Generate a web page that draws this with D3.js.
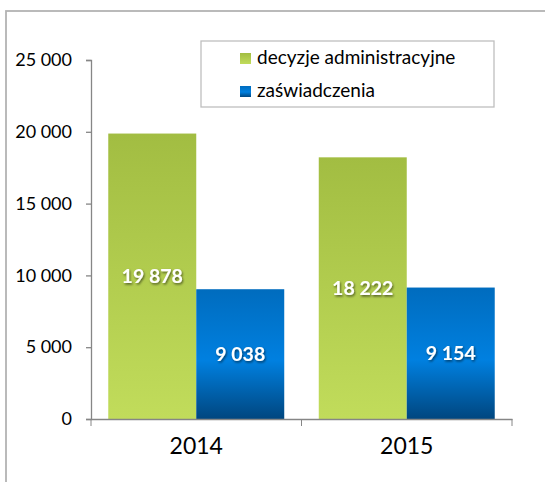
<!DOCTYPE html>
<html>
<head>
<meta charset="utf-8">
<style>
  body { margin: 0; background: #fff; }
  svg { display: block; font-family: Lato, "Open Sans", sans-serif; }
</style>
</head>
<body>
<script src="https://d3js.org/d3.v7.min.js"></script>
<script>

var width = 545,
    height = 482;

// data
var years = ["2014", "2015"];
var seriesNames = ["decyzje administracyjne", "zaświadczenia"];
var decyzje = [19878, 18222];
var zaswiadczenia = [9038, 9154];
var yTicks = [0, 5000, 10000, 15000, 20000, 25000];

var margin = {top: 60, right: 33, bottom: 63, left: 91};

var svg = d3.select("body").append("svg")
    .attr("width", width)
    .attr("height", height);

var defs = svg.append("defs");

var gGreen = defs.append("linearGradient")
    .attr("id", "gradGreen")
    .attr("x1", 0).attr("y1", 0).attr("x2", 0).attr("y2", 1);
gGreen.append("stop").attr("offset", "0%").attr("stop-color", "#a2bd42");
gGreen.append("stop").attr("offset", "100%").attr("stop-color", "#c1dc5b");

var gBlue = defs.append("linearGradient")
    .attr("id", "gradBlue")
    .attr("x1", 0).attr("y1", 0).attr("x2", 0).attr("y2", 1);
gBlue.append("stop").attr("offset", "0%").attr("stop-color", "#006cbe");
gBlue.append("stop").attr("offset", "55%").attr("stop-color", "#0080e0");
gBlue.append("stop").attr("offset", "100%").attr("stop-color", "#00467f");

var shadow = defs.append("filter").attr("id", "shadow")
    .attr("x", "-20%").attr("y", "-20%").attr("width", "140%").attr("height", "160%");
shadow.append("feDropShadow")
    .attr("dx", 1).attr("dy", 1.5).attr("stdDeviation", 1)
    .attr("flood-color", "#000").attr("flood-opacity", 0.55);

var fills = ["url(#gradGreen)", "url(#gradBlue)"];

// chart frame (clipped by the window on right and bottom)
svg.append("rect")
    .attr("x", 6).attr("y", 11)
    .attr("width", 560).attr("height", 500)
    .attr("fill", "none")
    .attr("stroke", "#b3b3b3")
    .attr("stroke-width", 1.8);

var x0 = d3.scaleBand()
    .domain(years)
    .range([margin.left, width - margin.right])
    .paddingInner(0.164)
    .paddingOuter(0.082);

var x1 = d3.scaleBand()
    .domain([0, 1])
    .range([0, x0.bandwidth()]);

var y = d3.scaleLinear()
    .domain([0, 25000])
    .range([height - margin.bottom, margin.top]);

var fmt = function(v) { return d3.format(",")(v).replace(/,/g, " "); };

// bars
var groups = svg.append("g").selectAll("g")
    .data(years)
    .enter().append("g")
    .attr("transform", function(d) { return "translate(" + x0(d) + ",0)"; });

groups.selectAll("rect")
    .data(function(d, i) { return [decyzje[i], zaswiadczenia[i]]; })
    .enter().append("rect")
    .attr("x", function(d, j) { return x1(j); })
    .attr("y", function(d) { return y(d); })
    .attr("width", x1.bandwidth())
    .attr("height", function(d) { return y(0) - y(d); })
    .attr("fill", function(d, j) { return fills[j]; });

groups.selectAll("text")
    .data(function(d, i) { return [decyzje[i], zaswiadczenia[i]]; })
    .enter().append("text")
    .attr("x", function(d, j) { return x1(j) + x1.bandwidth() / 2; })
    .attr("y", function(d) { return (y(d) + y(0)) / 2; })
    .attr("dy", "0.36em")
    .attr("text-anchor", "middle")
    .attr("fill", "#fff")
    .attr("font-weight", "bold")
    .attr("font-size", "19.5px")
    .attr("filter", "url(#shadow)")
    .text(function(d) { return fmt(d); });

// y axis
var yAxis = svg.append("g")
    .attr("transform", "translate(" + margin.left + ",0)")
    .call(d3.axisLeft(y).tickValues(yTicks).tickSize(5).tickPadding(14).tickFormat(fmt));
yAxis.selectAll("text").attr("font-size", "18px").attr("fill", "#000")
    .attr("font-family", "Lato, sans-serif");

// x axis
var xAxis = svg.append("g")
    .attr("transform", "translate(0," + y(0) + ")")
    .call(d3.axisBottom(x0).tickSize(0).tickPadding(19));
xAxis.selectAll("text").attr("font-size", "23px").attr("fill", "#000")
    .attr("font-family", "Lato, sans-serif");

// category boundary ticks
var bounds = [margin.left, (x0("2014") + x0.bandwidth() + x0("2015")) / 2, width - margin.right];
xAxis.selectAll("line.bound")
    .data(bounds)
    .enter().append("line")
    .attr("class", "bound")
    .attr("x1", function(d) { return d; })
    .attr("x2", function(d) { return d; })
    .attr("y1", 0).attr("y2", 7)
    .attr("stroke", "#868686");

svg.selectAll(".domain, .tick line")
    .attr("stroke", "#868686")
    .attr("stroke-width", 1.3);

// legend
var legend = svg.append("g").attr("transform", "translate(201,41)");
legend.append("rect")
    .attr("width", 293).attr("height", 66)
    .attr("fill", "#fff")
    .attr("stroke", "#bfbfbf")
    .attr("stroke-width", 1.3);

var items = legend.selectAll("g.item")
    .data(seriesNames)
    .enter().append("g")
    .attr("class", "item")
    .attr("transform", function(d, i) { return "translate(39," + (12 + i * 33) + ")"; });

items.append("rect")
    .attr("width", 11).attr("height", 11)
    .attr("fill", function(d, i) { return fills[i]; });

items.append("text")
    .attr("x", 17)
    .attr("y", 11)
    .attr("font-size", "19px")
    .attr("fill", "#000")
    .text(function(d) { return d; });

</script>
</body>
</html>
